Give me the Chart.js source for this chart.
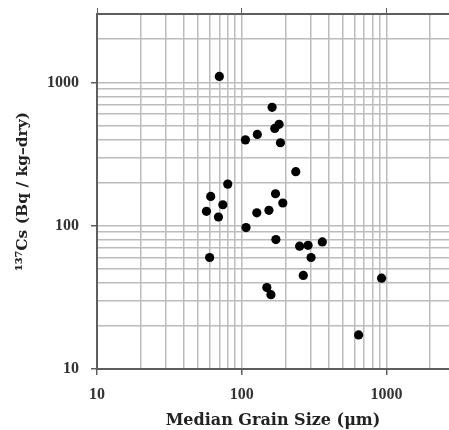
<!DOCTYPE html>
<html>
<head>
<meta charset="utf-8">
<script src="https://cdn.jsdelivr.net/npm/chart.js@4/dist/chart.umd.min.js"></script>
<style>
    body { margin: 0; background: #fff; }
    #wrap { width: 449px; height: 430px; }
</style>
</head>
<body>
<div id="wrap"><canvas id="csChart"></canvas></div>
<script>
// Median grain size (µm) and 137Cs concentration (Bq/kg-dry) per sample
const grainSize = [70, 162, 181, 169, 128, 106, 185, 236, 80, 61, 74, 57, 69, 171,
    192, 127, 154, 107, 172, 251, 287, 360, 301, 266, 149, 159, 924, 641, 60];
const cesium = [1100, 670, 510, 477, 433, 397, 379, 238, 195, 160, 140, 126, 115, 167,
    144, 123, 128, 97, 80, 72, 73, 77, 60, 45, 37, 33, 43, 17.3, 60];

// grid lines / ticks
const xTicks = [10, 20, 30, 40, 50, 60, 70, 80, 90, 100, 200, 300, 400, 500, 600, 700, 800, 900, 1000, 2000];
const yTicks = [10, 20, 30, 40, 50, 60, 70, 80, 90, 100, 200, 300, 400, 500, 600, 700, 800, 900, 1000, 2000, 3000];
const majorTicks = [10, 100, 1000];

const axisColor = "#5e5e5e";
const gridColor = "#bcbcbc";
const serif = "'Liberation Serif', 'DejaVu Serif', serif";
const titleFont = "'DejaVu Serif', serif";

const points = grainSize.map((g, i) => ({ x: g, y: cesium[i] }));

const tickColor = c => majorTicks.includes(c.tick.value) ? axisColor : "transparent";

// keep the plot area where the reference has it
function noPad(s) {
    s.paddingTop = 0;
    s.paddingBottom = 0;
    s.paddingLeft = 0;
    s.paddingRight = 0;
}

new Chart(document.getElementById("csChart"), {
    type: "scatter",
    data: {
        datasets: [{
            data: points,
            backgroundColor: "#000",
            borderWidth: 0,
            pointRadius: 4.6,
            pointHoverRadius: 4.6
        }]
    },
    options: {
        responsive: true,
        maintainAspectRatio: false,
        animation: false,
        layout: { autoPadding: false, padding: 0 },
        plugins: { legend: { display: false }, tooltip: { enabled: false } },
        scales: {
            x: {
                type: "logarithmic",
                min: 10,
                max: 2700,
                afterBuildTicks: s => { s.ticks = xTicks.map(v => ({ value: v })); },
                afterFit: s => { s.height = 61; noPad(s); },
                grid: { color: gridColor, lineWidth: 1.5, tickLength: 6, tickColor: tickColor },
                border: { color: axisColor, width: 2 },
                ticks: {
                    autoSkip: false,
                    maxRotation: 0,
                    padding: 10,
                    color: "#333",
                    font: { family: serif, size: 16, weight: "bold" },
                    callback: v => majorTicks.includes(v) ? String(v) : ""
                },
                title: {
                    display: true,
                    text: "Median Grain Size (μm)",
                    color: "#222",
                    padding: 0,
                    font: { family: titleFont, size: 16, weight: "bold" }
                }
            },
            x2: {
                type: "logarithmic",
                axis: "x",
                position: "top",
                min: 10,
                max: 2700,
                afterBuildTicks: s => { s.ticks = xTicks.map(v => ({ value: v })); },
                afterFit: s => { s.height = 14; noPad(s); },
                grid: { drawOnChartArea: false, tickLength: 6, tickColor: tickColor },
                border: { display: false },
                ticks: { display: false }
            },
            y: {
                type: "logarithmic",
                min: 10,
                max: 3000,
                afterBuildTicks: s => { s.ticks = yTicks.map(v => ({ value: v })); },
                afterFit: s => { s.width = 97; noPad(s); },
                grid: {
                    color: c => c.tick && c.tick.value === 3000 ? axisColor : gridColor,
                    lineWidth: c => c.tick && c.tick.value === 3000 ? 2 : 1.5,
                    tickLength: 6,
                    tickColor: tickColor
                },
                border: { color: axisColor, width: 2 },
                ticks: {
                    autoSkip: false,
                    padding: 12,
                    color: "#333",
                    font: { family: serif, size: 16, weight: "bold" },
                    callback: v => majorTicks.includes(v) ? String(v) : ""
                },
                title: {
                    display: true,
                    text: "¹³⁷Cs (Bq / kg–dry)",
                    color: "#222",
                    padding: { top: 14, bottom: 0 },
                    font: { family: titleFont, size: 15.5, weight: "bold" }
                }
            }
        }
    }
});
</script>
</body>
</html>
